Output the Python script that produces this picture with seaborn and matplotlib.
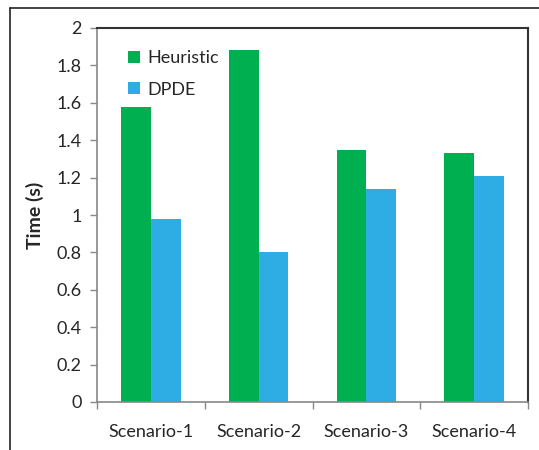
import matplotlib
matplotlib.use("Agg")
import matplotlib.pyplot as plt
import seaborn as sns
import pandas as pd
from matplotlib.lines import Line2D
from matplotlib.ticker import FixedLocator

scenarios = ["Scenario-1", "Scenario-2", "Scenario-3", "Scenario-4"]
heuristic = [1.58, 1.88, 1.35, 1.33]
dpde = [0.98, 0.80, 1.14, 1.21]
methods = ["Heuristic", "DPDE"]
colors = ["#00B050", "#2EADE5"]

df = pd.DataFrame({
    "Scenario": scenarios * 2,
    "Method": [methods[0]] * 4 + [methods[1]] * 4,
    "Time": heuristic + dpde,
})

sns.set_theme(style="white")
plt.rcParams["font.family"] = ["Lato", "DejaVu Sans"]

fig = plt.figure(figsize=(5.39, 4.5), dpi=100)
ax = fig.add_axes([97 / 539, 48 / 450, (528 - 97) / 539, (402 - 28) / 450])

sns.barplot(data=df, x="Scenario", y="Time", hue="Method", palette=colors,
            width=0.55, saturation=1, ax=ax, linewidth=0, legend=True)

ax.set_ylim(0, 2)
ax.set_xlim(-0.5, 3.5)
ax.set_yticks([0, 0.2, 0.4, 0.6, 0.8, 1, 1.2, 1.4, 1.6, 1.8, 2])
ax.set_yticklabels(["0", "0.2", "0.4", "0.6", "0.8", "1", "1.2", "1.4", "1.6", "1.8", "2"])
ax.tick_params(axis="y", direction="out", length=5, width=1, color="#888888",
               labelsize=13, pad=6, left=True)
ax.tick_params(axis="x", which="major", length=0, labelsize=13, pad=16)
ax.xaxis.set_minor_locator(FixedLocator([-0.5, 0.5, 1.5, 2.5, 3.5]))
ax.tick_params(axis="x", which="minor", direction="out", length=5, width=1,
               color="#888888", bottom=True)
ax.set_xlabel("")
ax.set_ylabel("Time (s)", fontsize=14, fontweight="bold", labelpad=9)

for side in ["left", "bottom"]:
    ax.spines[side].set_color("#888888")
    ax.spines[side].set_linewidth(1.2)
for side in ["top", "right"]:
    ax.spines[side].set_color("#333333")
    ax.spines[side].set_linewidth(1.5)

leg = ax.legend(title=None, loc="upper left", bbox_to_anchor=(0.055, 0.96),
                frameon=False, fontsize=13, handlelength=0.65, handleheight=0.65,
                handletextpad=0.4, labelspacing=0.85, borderaxespad=0)

# outer frame of the chart area
fig.add_artist(Line2D([10 / 539, 10 / 539], [0, 1 - 8 / 450],
                      transform=fig.transFigure, color="#222222", lw=1.2))
fig.add_artist(Line2D([10 / 539, 1], [1 - 8 / 450, 1 - 8 / 450],
                      transform=fig.transFigure, color="#222222", lw=1.2))

fig.savefig("out.png", dpi=100)
